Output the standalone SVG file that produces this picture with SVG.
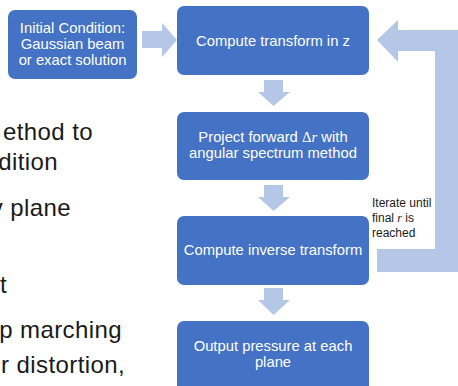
<svg xmlns="http://www.w3.org/2000/svg" width="458" height="386" viewBox="0 0 458 386">
<style>
.box{fill:#4472C4;}
.arr{fill:#B4C7E7;}
.bt{font-family:"Liberation Sans",Arial,sans-serif;font-size:14.8px;fill:#ffffff;text-anchor:middle;}
.lt{font-family:"Liberation Sans",Arial,sans-serif;font-size:24px;letter-spacing:0.4px;fill:#1a1a1a;text-anchor:end;}
.st{font-family:"Liberation Sans",Arial,sans-serif;font-size:12px;fill:#1a1a1a;}
</style>
<rect width="458" height="386" fill="#ffffff"/>
<g id="bg-text">
<text class="lt" x="93" y="140">ethod to</text>
<text class="lt" x="58" y="170">dition</text>
<text class="lt" x="71" y="216">v plane</text>
<text class="lt" x="7" y="293">t</text>
<text class="lt" x="122" y="338">p marching</text>
<text class="lt" x="125" y="373">r distortion,</text>
</g>
<g id="connectors">
<polygon class="arr" points="142,31 162,31 162,23 177,40 162,57 162,48 142,48"/>
<polygon class="arr" points="264,80 283,80 283,92 290,92 273.5,106 258,92 264,92"/>
<polygon class="arr" points="264,185 283,185 283,197 290,197 273.5,211 258,197 264,197"/>
<polygon class="arr" points="264,288 283,288 283,300 290,300 273.5,315 258,300 264,300"/>
<polygon class="arr" points="377,40 398,20 398,30 460,30 460,272 377,272 377,249 435,249 435,51 398,51 398,62"/>
</g>
<g id="label-iterate">
<text class="st" x="372" y="207">Iterate until</text>
<text class="st" x="372" y="222">final <tspan font-family="Liberation Serif,serif" font-style="italic">r</tspan> is</text>
<text class="st" x="372" y="237">reached</text>
</g>
<g id="node-initial">
<rect class="box" x="8" y="10" width="129" height="69" rx="7"/>
<text class="bt" x="72.5" y="33">Initial Condition:</text>
<text class="bt" x="72.5" y="49">Gaussian beam</text>
<text class="bt" x="72.5" y="65">or exact solution</text>
</g>
<g id="node-transform">
<rect class="box" x="177" y="6" width="192" height="69" rx="7"/>
<text class="bt" x="273" y="46">Compute transform in z</text>
</g>
<g id="node-project">
<rect class="box" x="177" y="112" width="192" height="68" rx="7"/>
<text class="bt" x="273" y="142">Project forward <tspan font-family="Liberation Serif,serif">Δ</tspan><tspan font-family="Liberation Serif,serif" font-style="italic">r</tspan> with</text>
<text class="bt" x="273" y="158">angular spectrum method</text>
</g>
<g id="node-inverse">
<rect class="box" x="177" y="216" width="192" height="69" rx="7"/>
<text class="bt" x="273" y="255">Compute inverse transform</text>
</g>
<g id="node-output">
<rect class="box" x="177" y="321" width="192" height="75" rx="7"/>
<text class="bt" x="273" y="351">Output pressure at each</text>
<text class="bt" x="273" y="367">plane</text>
</g>
</svg>
